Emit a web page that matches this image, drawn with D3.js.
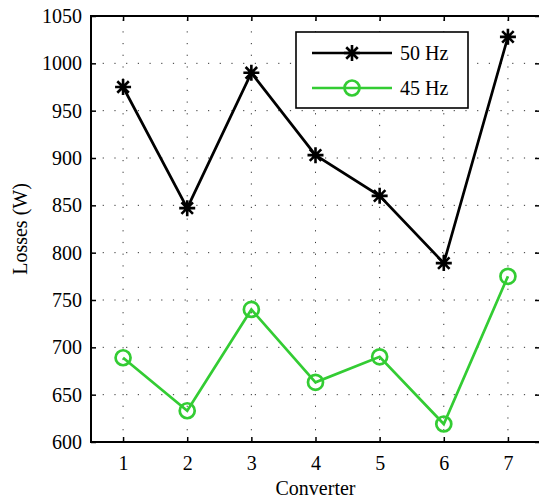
<!DOCTYPE html>
<html>
<head>
<meta charset="utf-8">
<script src="https://cdn.jsdelivr.net/npm/d3@7"></script>
<style>
  body { margin: 0; background: #fff; }
  svg text { font-family: 'Liberation Serif', 'Times New Roman', Times, 'DejaVu Serif', serif !important; }
</style>
</head>
<body>
<div id="chart"></div>
<script>
// values
var converters = [1, 2, 3, 4, 5, 6, 7];
var losses50 = [975, 847, 990, 903, 860, 789, 1028];
var losses45 = [689, 633, 740, 663, 690, 619, 775];
var yTicks = [600, 650, 700, 750, 800, 850, 900, 950, 1000, 1050];
var seriesNames = ["50 Hz", "45 Hz"];
var seriesColors = ["#000000", "#33cc33"];

var width = 539, height = 500;
var margin = { left: 91, top: 16, right: -1, bottom: 58 };

var svg = d3.select("#chart").append("svg")
    .attr("width", width).attr("height", height);

var x = d3.scaleLinear().domain([0.5, 7.5]).range([margin.left, width - margin.right]);
var y = d3.scaleLinear().domain([600, 1050]).range([height - margin.bottom, margin.top]);

var x0 = x.range()[0], x1 = x.range()[1], y0 = y.range()[0], y1 = y.range()[1];

//dotted grid
var grid = svg.append("g").attr("stroke", "#333").attr("stroke-width", 1)
    .attr("stroke-dasharray", "1.2,10.5");
grid.selectAll("line.gx").data(converters).enter().append("line")
    .attr("x1", function (d) { return x(d); }).attr("x2", function (d) { return x(d); })
    .attr("y1", y0).attr("y2", y1);
grid.selectAll("line.gy").data(yTicks.slice(1, -1)).enter().append("line")
    .attr("y1", function (d) { return y(d); }).attr("y2", function (d) { return y(d); })
    .attr("x1", x0).attr("x2", x1);

//axes - ticks pointing inward, mirrored on top/right
function styleAxis(g) {
    g.select(".domain").remove();
    g.attr("font-family", null);
    g.selectAll(".tick line").attr("stroke", "#000").attr("stroke-width", 1.5);
    g.selectAll(".tick text").attr("font-size", 20).attr("fill", "#000");
}
svg.append("g").attr("transform", "translate(0," + y0 + ")")
    .call(d3.axisBottom(x).tickValues(converters).tickFormat(d3.format("d")).tickSizeInner(-5).tickPadding(14))
    .call(styleAxis);
svg.append("g").attr("transform", "translate(0," + y1 + ")")
    .call(d3.axisTop(x).tickValues(converters).tickFormat("").tickSizeInner(-5))
    .call(styleAxis);
svg.append("g").attr("transform", "translate(" + x0 + ",0)")
    .call(d3.axisLeft(y).tickValues(yTicks).tickFormat(d3.format("d")).tickSizeInner(-5).tickPadding(9))
    .call(styleAxis);
svg.append("g").attr("transform", "translate(" + x1 + ",0)")
    .call(d3.axisRight(y).tickValues(yTicks).tickFormat("").tickSizeInner(-5))
    .call(styleAxis);

svg.append("rect").attr("x", x0).attr("y", y1).attr("width", x1 - x0).attr("height", y0 - y1)
    .attr("fill", "none").attr("stroke", "#000").attr("stroke-width", 2);

//markers
function starPath(cx, cy, r) {
    var d = r * 0.72;
    return "M" + (cx - r) + "," + cy + "L" + (cx + r) + "," + cy +
        "M" + cx + "," + (cy - r) + "L" + cx + "," + (cy + r) +
        "M" + (cx - d) + "," + (cy - d) + "L" + (cx + d) + "," + (cy + d) +
        "M" + (cx - d) + "," + (cy + d) + "L" + (cx + d) + "," + (cy - d);
}

var line = d3.line().x(function (d, i) { return x(converters[i]); }).y(function (d) { return y(d); });

function drawSeries(values, color, marker) {
    var g = svg.append("g");
    g.append("path").datum(values).attr("d", line)
        .attr("fill", "none").attr("stroke", color).attr("stroke-width", 2.7);
    values.forEach(function (v, i) {
        marker(g, x(converters[i]), y(v), color);
    });
}
function starMarker(g, cx, cy, color) {
    g.append("path").attr("d", starPath(cx, cy, 8)).attr("stroke", color).attr("stroke-width", 2.6).attr("fill", "none");
}
function circleMarker(g, cx, cy, color) {
    g.append("circle").attr("cx", cx).attr("cy", cy).attr("r", 7.5)
        .attr("fill", "none").attr("stroke", color).attr("stroke-width", 2.7);
}

drawSeries(losses50, seriesColors[0], starMarker);
drawSeries(losses45, seriesColors[1], circleMarker);

//legend
var legend = svg.append("g");
legend.append("rect").attr("x", 296).attr("y", 32).attr("width", 172).attr("height", 76)
    .attr("fill", "#fff").attr("stroke", "#000").attr("stroke-width", 1.6);
var markers = [starMarker, circleMarker];
[53, 88].forEach(function (ly, i) {
    legend.append("line").attr("x1", 312).attr("x2", 392).attr("y1", ly).attr("y2", ly)
        .attr("stroke", seriesColors[i]).attr("stroke-width", 2.7);
    markers[i](legend, 352, ly, seriesColors[i]);
    legend.append("text").attr("x", 400).attr("y", ly + 7).attr("font-size", 20)
        .text(seriesNames[i]);
});

//axis labels
svg.append("text").attr("x", (x0 + x1) / 2).attr("y", 495).attr("text-anchor", "middle")
    .attr("font-size", 20).text("Converter");
svg.append("text").attr("transform", "translate(27," + ((y0 + y1) / 2) + ") rotate(-90)")
    .attr("text-anchor", "middle").attr("font-size", 20).text("Losses (W)");
</script>
</body>
</html>
